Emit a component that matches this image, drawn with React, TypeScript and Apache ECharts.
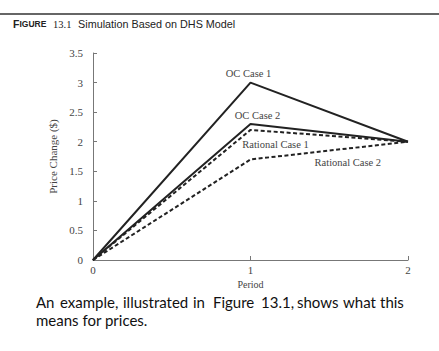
import React, { useEffect, useRef } from "react";
import * as echarts from "echarts";

const periods = [0, 1, 2];
const ocCase1 = [0, 3, 2];
const ocCase2 = [0, 2.3, 2];
const rationalCase1 = [0, 2.2, 2];
const rationalCase2 = [0, 1.7, 2];
const seriesNames = ["OC Case 1", "OC Case 2", "Rational Case 1", "Rational Case 2"];
const yTicks = [0, 0.5, 1, 1.5, 2, 2.5, 3, 3.5];
const bodyLine1 = ["An", "example,", "illustrated", "in", "Figure", "13.1,", "shows", "what", "this"];
const bodyLine2 = "means for prices.";

const serif = "'Liberation Serif', 'DejaVu Serif', serif";
const sans = "'Liberation Sans', Arial, sans-serif";

export default function App() {
  const ref = useRef<HTMLDivElement>(null);
  useEffect(() => {
    if (!ref.current) return;
    const chart = echarts.init(ref.current, undefined, { renderer: "svg" });
    const mk = (name: string, vals: number[], dashed: boolean, labelOpts: any) => ({
      name,
      type: "line",
      data: periods.map((p, i) => [p, vals[i]]),
      symbol: "circle",
      symbolSize: 0.1,
      showSymbol: true,
      itemStyle: { color: "#222" },
      lineStyle: { color: "#222", width: 2, type: dashed ? [4, 2.5] : "solid" },
      label: {
        show: true,
        formatter: (p: any) => (p.dataIndex === 1 ? name : ""),
        fontFamily: serif,
        fontSize: 10.5,
        color: "#444",
        ...labelOpts,
      },
      z: dashed ? 3 : 2,
    });
    const words1x = [36, 60, 123, 193, 213, 261, 297, 343, 380];
    chart.setOption({
      animation: false,
      grid: { left: 93, right: 31, top: 53, bottom: 91 },
      xAxis: {
        type: "value",
        min: 0,
        max: 2,
        interval: 1,
        name: "Period",
        nameLocation: "middle",
        nameGap: 19,
        nameTextStyle: { fontFamily: serif, fontSize: 10, color: "#444" },
        axisLine: { show: true, lineStyle: { color: "#777", width: 1 } },
        axisTick: { show: true, inside: true, length: 4, lineStyle: { color: "#777" } },
        axisLabel: { fontFamily: serif, fontSize: 11, color: "#444", margin: 4 },
        splitLine: { show: false },
      },
      yAxis: {
        type: "value",
        min: 0,
        max: 3.5,
        interval: 0.5,
        name: "Price Change ($)",
        nameLocation: "middle",
        nameGap: 25,
        nameRotate: 90,
        nameTextStyle: { fontFamily: serif, fontSize: 11, color: "#444" },
        axisLine: { show: true, lineStyle: { color: "#777", width: 1 } },
        axisTick: { show: true, inside: true, length: 4, lineStyle: { color: "#777" } },
        axisLabel: {
          fontFamily: serif,
          fontSize: 11,
          color: "#444",
          margin: 10,
          formatter: (v: number) => (yTicks.includes(v) ? String(v) : ""),
        },
        splitLine: { show: false },
      },
      series: [
        mk(seriesNames[0], ocCase1, false, { position: "top", distance: 4, offset: [-2, 0] }),
        mk(seriesNames[1], ocCase2, false, { position: "top", distance: 3, offset: [7, 0] }),
        mk(seriesNames[2], rationalCase1, true, { position: "bottom", distance: 9, offset: [25, 0] }),
        mk(seriesNames[3], rationalCase2, true, { position: "right", distance: 0, offset: [64, 3] }),
      ],
      graphic: [
        {
          type: "line",
          shape: { x1: 0, y1: 14, x2: 439, y2: 14 },
          style: { stroke: "#333", lineWidth: 1.5 },
        },
        {
          type: "text",
          left: 13,
          top: 18,
          style: {
            text: "{f|F}{sc|IGURE}  {n|13.1}  {t|Simulation Based on DHS Model}",
            rich: {
              f: { fontFamily: sans, fontWeight: "bold", fontSize: 10.5, fill: "#222" },
              sc: { fontFamily: sans, fontWeight: "bold", fontSize: 8.5, fill: "#222" },
              n: { fontFamily: serif, fontSize: 10.5, fill: "#222" },
              t: { fontFamily: sans, fontSize: 10.8, fill: "#222" },
            },
          },
        },
        ...bodyLine1.map((w, i) => ({
          type: "text",
          x: words1x[i],
          y: 302,
          style: {
            text: w,
            fontFamily: "Lato, 'Open Sans', sans-serif",
            fontSize: 15,
            fill: "#111",
            verticalAlign: "middle",
          },
        })),
        {
          type: "text",
          x: 36,
          y: 320,
          style: {
            text: bodyLine2,
            fontFamily: "Lato, 'Open Sans', sans-serif",
            fontSize: 15,
            fill: "#111",
            verticalAlign: "middle",
          },
        },
      ],
    });
    return () => chart.dispose();
  }, []);
  return (
    <div
      ref={ref}
      style={{ position: "fixed", left: 0, top: 0, width: 439, height: 351, background: "#fff" }}
    />
  );
}
